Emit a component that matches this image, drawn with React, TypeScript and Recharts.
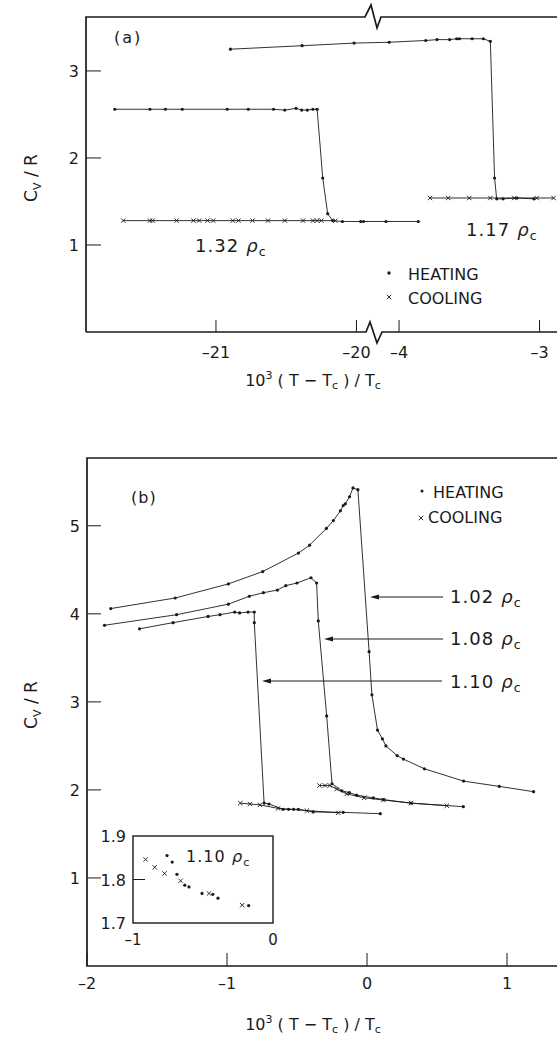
import React from "react";
import { ScatterChart, Scatter, XAxis, YAxis } from "recharts";

type Pt = [number, number];

const INK = "#1a1a1a";
const FONT = "DejaVu Sans";

// ---- panel (a): 1.32 rho_c lives on the -22..-19.5 branch, 1.17 rho_c on the -5..-3 branch
const heat132: Pt[] = [
  [-21.72, 2.56], [-21.47, 2.56], [-21.36, 2.56], [-21.24, 2.56], [-20.92, 2.56],
  [-20.77, 2.56], [-20.59, 2.56], [-20.51, 2.55], [-20.43, 2.57], [-20.39, 2.55],
  [-20.35, 2.55], [-20.31, 2.56], [-20.28, 2.56], [-20.24, 1.77], [-20.205, 1.36],
  [-20.17, 1.28], [-20.1, 1.27], [-19.97, 1.27], [-19.95, 1.27], [-19.79, 1.27],
  [-19.56, 1.27],
];
const cool132: Pt[] = [
  [-21.66, 1.28], [-21.47, 1.28], [-21.45, 1.28], [-21.28, 1.28], [-21.16, 1.28],
  [-21.12, 1.28], [-21.06, 1.28], [-21.02, 1.28], [-20.88, 1.28], [-20.84, 1.28],
  [-20.74, 1.28], [-20.63, 1.28], [-20.51, 1.28], [-20.38, 1.28], [-20.31, 1.28],
  [-20.28, 1.28], [-20.25, 1.28], [-20.15, 1.28],
];
const heat117: Pt[] = [
  [-5.2, 3.25], [-4.69, 3.29], [-4.32, 3.32], [-4.07, 3.33], [-3.81, 3.35],
  [-3.73, 3.36], [-3.64, 3.36], [-3.59, 3.37], [-3.57, 3.37], [-3.48, 3.37],
  [-3.4, 3.37], [-3.35, 3.34], [-3.32, 1.77], [-3.305, 1.53], [-3.26, 1.53],
  [-3.16, 1.54], [-3.04, 1.53],
];
const cool117: Pt[] = [
  [-3.78, 1.54], [-3.65, 1.54], [-3.5, 1.54], [-3.35, 1.54], [-3.18, 1.54],
  [-3.02, 1.54], [-2.9, 1.54],
];
const aLeftTicks = [-21, -20];
const aRightTicks = [-4, -3];
const aYTicks = [1, 2, 3];

// ---- panel (b)
const heat102: Pt[] = [
  [-1.83, 4.06], [-1.37, 4.18], [-0.99, 4.34], [-0.745, 4.48], [-0.49, 4.69],
  [-0.41, 4.78], [-0.29, 4.97], [-0.24, 5.06], [-0.19, 5.17], [-0.17, 5.23],
  [-0.155, 5.25], [-0.125, 5.33], [-0.1, 5.43], [-0.065, 5.41], [0.015, 3.57],
  [0.035, 3.08], [0.075, 2.68], [0.11, 2.58], [0.135, 2.5], [0.215, 2.39],
  [0.26, 2.35], [0.41, 2.24], [0.69, 2.1], [0.945, 2.04], [1.19, 1.98],
];
const heat108: Pt[] = [
  [-1.875, 3.87], [-1.36, 3.99], [-0.99, 4.11], [-0.84, 4.2], [-0.74, 4.24],
  [-0.64, 4.27], [-0.58, 4.32], [-0.5, 4.35], [-0.4, 4.41], [-0.36, 4.35],
  [-0.348, 3.92], [-0.288, 2.84], [-0.25, 2.07], [-0.18, 1.99], [-0.126, 1.97],
  [-0.074, 1.94], [0.045, 1.91], [0.117, 1.89], [0.314, 1.85], [0.688, 1.81],
];
const cool108: Pt[] = [
  [-0.34, 2.05], [-0.3, 2.05], [-0.265, 2.05], [-0.217, 2.01], [-0.145, 1.955],
  [-0.02, 1.91], [0.117, 1.885], [0.314, 1.85], [0.57, 1.82],
];
const heat110: Pt[] = [
  [-1.625, 3.83], [-1.385, 3.9], [-1.135, 3.97], [-1.05, 3.99], [-0.945, 4.02],
  [-0.91, 4.01], [-0.85, 4.02], [-0.805, 4.02], [-0.805, 3.9], [-0.735, 1.85],
  [-0.7, 1.84], [-0.6, 1.78], [-0.56, 1.78], [-0.525, 1.78], [-0.49, 1.78],
  [-0.385, 1.75], [-0.17, 1.745], [0.095, 1.73],
];
const cool110: Pt[] = [
  [-0.905, 1.85], [-0.835, 1.84], [-0.765, 1.83], [-0.635, 1.79], [-0.43, 1.765],
  [-0.205, 1.74],
];
const bXTicks = [-2, -1, 0, 1];
const bYTicks = [1, 2, 3, 4, 5];

// ---- inset: 1.10 rho_c low branch blown up
const insetHeat: Pt[] = [
  [-0.757, 1.855], [-0.72, 1.84], [-0.686, 1.812], [-0.63, 1.787], [-0.6, 1.783],
  [-0.507, 1.768], [-0.43, 1.766], [-0.393, 1.757], [-0.174, 1.74],
];
const insetCool: Pt[] = [
  [-0.91, 1.846], [-0.845, 1.828], [-0.775, 1.814], [-0.66, 1.797], [-0.457, 1.768],
  [-0.22, 1.741],
];
const insetXTicks = [-1, 0];
const insetYTicks = [1.7, 1.8, 1.9];

// right branch of (a) is shifted so that -4 sits just past the axis break
const BREAK_SHIFT = -15.697;

const toData = (pts: Pt[], shift = 0) => pts.map(([x, y]) => ({ x: x + shift, y }));
const fmt = (v: number) => (v < 0 ? "\u2013" + Math.abs(v) : String(v));

const DotMark = (p: any) => <circle cx={p.cx} cy={p.cy} r={1.6} fill={INK} />;
const CrossMark = (p: any) => {
  const s = 2.2;
  return (
    <path
      d={`M${p.cx - s},${p.cy - s}L${p.cx + s},${p.cy + s}M${p.cx - s},${p.cy + s}L${p.cx + s},${p.cy - s}`}
      stroke={INK}
      strokeWidth={0.9}
    />
  );
};

const lineStyle = { stroke: INK, strokeWidth: 0.9 };
const tickText = { fontFamily: FONT, fontSize: 16, fill: INK };

// x ticks drawn inward from the frame, label below (dir -1 = bottom axis, +1 = top axis)
const xTick = (dir: number, len: number, labels?: string[], dy = 22, size = 16) => (p: any) => (
  <g>
    <line x1={p.x} y1={p.y} x2={p.x} y2={p.y + dir * len} stroke={INK} strokeWidth={1} />
    {labels && (
      <text x={p.x} y={p.y + dy} textAnchor="middle" {...tickText} fontSize={size}>
        {labels[p.index]}
      </text>
    )}
  </g>
);
const yTick = (dir: number, len: number, labels?: string[], markOnly?: number) => (p: any) => (
  <g>
    {(markOnly === undefined || p.payload.value === markOnly) && (
      <line x1={p.x} y1={p.y} x2={p.x + dir * len} y2={p.y} stroke={INK} strokeWidth={1} />
    )}
    {labels && (
      <text x={p.x - 7} y={p.y + 6} textAnchor="end" {...tickText}>
        {labels[p.index]}
      </text>
    )}
  </g>
);

const axisBase = { axisLine: false, tickLine: false, tickSize: 0, tickMargin: 0, interval: 0 as const };

function Rho({ x, y, num, size = 18 }: { x: number; y: number; num: string; size?: number }) {
  return (
    <text x={x} y={y} fontFamily={FONT} fontSize={size} fill={INK} letterSpacing={1}>
      {num}
      <tspan dx={size * 0.4} fontStyle="italic">ρ</tspan>
      <tspan dy={4} fontSize={size * 0.7}>c</tspan>
    </text>
  );
}

function XLabel({ y }: { y: number }) {
  return (
    <text x={313} y={y} textAnchor="middle" fontFamily={FONT} fontSize={16} fill={INK}>
      10<tspan dy={-7} fontSize={11}>3</tspan>
      <tspan dy={7}> ( T − T</tspan>
      <tspan dy={3} fontSize={11}>c</tspan>
      <tspan dy={-3}> ) / T</tspan>
      <tspan dy={3} fontSize={11}>c</tspan>
    </text>
  );
}

function YLabel({ cy }: { cy: number }) {
  return (
    <text x={37} y={cy} transform={`rotate(-90, 37, ${cy})`} textAnchor="middle"
      fontFamily={FONT} fontSize={17} fill={INK}>
      C<tspan dy={4} fontSize={11}>V</tspan>
      <tspan dy={-4}> / R</tspan>
    </text>
  );
}

function Arrow({ x1, x2, y }: { x1: number; x2: number; y: number }) {
  return (
    <g>
      <line x1={x1} y1={y} x2={x2 + 6} y2={y} stroke={INK} strokeWidth={1} />
      <path d={`M${x2},${y}L${x2 + 9},${y - 2.6}L${x2 + 9},${y + 2.6}Z`} fill={INK} />
    </g>
  );
}

export default function App() {
  const aTicks = [...aLeftTicks, ...aRightTicks.map((v) => v + BREAK_SHIFT)];
  const aLabels = [...aLeftTicks, ...aRightTicks].map(fmt);
  const aDomain = [-21.925, -21.925 + 476 / 140.5];
  const bDomain = [-2, -2 + 475 / 140];

  return (
    <div style={{ position: "absolute", left: 0, top: 0, width: 557, height: 1040, overflow: "hidden", background: "#fff" }}>
      {/* panel (a) */}
      <div style={{ position: "absolute", left: 0, top: 0 }}>
        <ScatterChart width={580} height={400} margin={{ top: 17, right: 18, bottom: 0, left: 0 }}>
          <XAxis type="number" dataKey="x" domain={aDomain} allowDataOverflow ticks={aTicks}
            height={68} {...axisBase} tick={xTick(-1, 12, aLabels, 26)} />
          <XAxis xAxisId="top" orientation="top" type="number" domain={aDomain} allowDataOverflow
            ticks={aTicks} height={0} {...axisBase} tick={xTick(1, 16)} />
          <YAxis type="number" dataKey="y" domain={[0, 3.62]} allowDataOverflow ticks={aYTicks}
            width={86} {...axisBase} tick={yTick(1, 15, aYTicks.map(String))} />
          <YAxis yAxisId="r" orientation="right" type="number" domain={[0, 3.62]} allowDataOverflow
            ticks={aYTicks} width={0} {...axisBase} tick={yTick(-1, 16)} />
          <Scatter data={toData(heat132)} line={lineStyle} lineType="joint" shape={DotMark} isAnimationActive={false} />
          <Scatter data={toData(cool132)} line={lineStyle} lineType="joint" shape={CrossMark} isAnimationActive={false} />
          <Scatter data={toData(heat117, BREAK_SHIFT)} line={lineStyle} lineType="joint" shape={DotMark} isAnimationActive={false} />
          <Scatter data={toData(cool117, BREAK_SHIFT)} line={lineStyle} lineType="joint" shape={CrossMark} isAnimationActive={false} />
        </ScatterChart>
      </div>

      {/* panel (b) */}
      <div style={{ position: "absolute", left: 0, top: 440 }}>
        <ScatterChart width={580} height={600} margin={{ top: 18, right: 18, bottom: 0, left: 0 }}>
          <XAxis type="number" dataKey="x" domain={bDomain} allowDataOverflow ticks={bXTicks}
            height={74} {...axisBase} tick={xTick(-1, 13, bXTicks.map(fmt), 23)} />
          <XAxis xAxisId="top" orientation="top" type="number" domain={bDomain} allowDataOverflow
            ticks={bXTicks} height={0} {...axisBase} tick={xTick(1, 15)} />
          <YAxis type="number" dataKey="y" domain={[0, 5.77]} allowDataOverflow ticks={bYTicks}
            width={87} {...axisBase} tick={yTick(1, 14, bYTicks.map(String))} />
          <YAxis yAxisId="r" orientation="right" type="number" domain={[0, 5.77]} allowDataOverflow
            ticks={bYTicks} width={0} {...axisBase} tick={yTick(-1, 16)} />
          <Scatter data={toData(heat102)} line={lineStyle} lineType="joint" shape={DotMark} isAnimationActive={false} />
          <Scatter data={toData(heat108)} line={lineStyle} lineType="joint" shape={DotMark} isAnimationActive={false} />
          <Scatter data={toData(cool108)} line={lineStyle} lineType="joint" shape={CrossMark} isAnimationActive={false} />
          <Scatter data={toData(heat110)} line={lineStyle} lineType="joint" shape={DotMark} isAnimationActive={false} />
          <Scatter data={toData(cool110)} line={lineStyle} lineType="joint" shape={CrossMark} isAnimationActive={false} />
        </ScatterChart>
      </div>

      {/* inset */}
      <div style={{ position: "absolute", left: 93, top: 826 }}>
        <ScatterChart width={190} height={127} margin={{ top: 10, right: 10, bottom: 0, left: 0 }}>
          <XAxis type="number" dataKey="x" domain={[-1, 0]} allowDataOverflow ticks={insetXTicks}
            height={30} {...axisBase} tick={xTick(-1, 0, insetXTicks.map(fmt), 22, 15)} />
          <YAxis type="number" dataKey="y" domain={[1.7, 1.9]} allowDataOverflow ticks={insetYTicks}
            width={40} {...axisBase} tick={yTick(1, 12, insetYTicks.map((v) => v.toFixed(1)), 1.8)} />
          <YAxis yAxisId="r" orientation="right" type="number" domain={[1.7, 1.9]} allowDataOverflow
            ticks={insetYTicks} width={0} {...axisBase} tick={yTick(-1, 13, undefined, 1.8)} />
          <Scatter data={toData(insetHeat)} shape={DotMark} isAnimationActive={false} />
          <Scatter data={toData(insetCool)} shape={CrossMark} isAnimationActive={false} />
        </ScatterChart>
      </div>

      {/* frames and annotations */}
      <svg width={557} height={1040} style={{ position: "absolute", left: 0, top: 0, pointerEvents: "none" }}>
        <path d="M86,332L86,17L365,17L371,5L377,28L381,17L580,17" fill="none" stroke={INK} strokeWidth={1.7} />
        <path d="M86,332L366,332L370,322L377,343L382,332L580,332" fill="none" stroke={INK} strokeWidth={1.7} />
        <path d="M580,458L87,458L87,966L580,966" fill="none" stroke={INK} strokeWidth={1.7} />
        <rect x={133} y={836} width={140} height={87} fill="none" stroke={INK} strokeWidth={1.4} />

        <text x={114} y={43} fontFamily={FONT} fontSize={16} fill={INK} letterSpacing={2}>(a)</text>
        <Rho x={195} y={252} num="1.32" />
        <Rho x={466} y={236} num="1.17" />
        <circle cx={389} cy={273} r={1.7} fill={INK} />
        <text x={408} y={280} fontFamily={FONT} fontSize={16} fill={INK}>HEATING</text>
        <CrossMark cx={389} cy={297} />
        <text x={408} y={304} fontFamily={FONT} fontSize={16} fill={INK}>COOLING</text>
        <YLabel cy={178} />
        <XLabel y={386} />

        <text x={131} y={503} fontFamily={FONT} fontSize={16} fill={INK} letterSpacing={1}>(b)</text>
        <circle cx={422} cy={491} r={1.5} fill={INK} />
        <text x={433} y={498} fontFamily={FONT} fontSize={16} fill={INK}>HEATING</text>
        <CrossMark cx={421} cy={518} />
        <text x={428} y={523} fontFamily={FONT} fontSize={16} fill={INK}>COOLING</text>
        <Arrow x1={443} x2={370} y={597} />
        <Rho x={450} y={603} num="1.02" />
        <Arrow x1={443} x2={324} y={639} />
        <Rho x={450} y={645} num="1.08" />
        <Arrow x1={442} x2={262} y={681} />
        <Rho x={450} y={688} num="1.10" />
        <Rho x={186} y={862} num="1.10" size={16} />
        <YLabel cy={705} />
        <XLabel y={1030} />
      </svg>
    </div>
  );
}
